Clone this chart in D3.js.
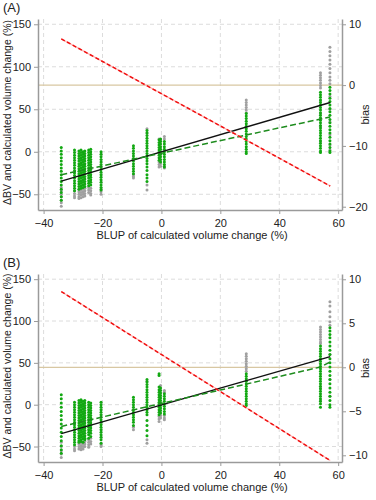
<!DOCTYPE html>
<html>
<head>
<meta charset="utf-8">
<script src="https://cdn.jsdelivr.net/npm/d3@7"></script>
<style>
  body { margin: 0; background: #fff; }
  text { font-family: "Liberation Sans", Arial, sans-serif; fill: #222; }
</style>
</head>
<body>
<div id="chart"></div>
<script>
// column positions (BLUP of calculated volume change, %)
var colX = [-34, -29.5, -28, -27.3, -26.6, -26, -24.7, -24, -20.5, -9.5, -4.9, -0.8, -0.3, 1, 28.8, 54, 57.2];

// panel A: grey = calculated volume change, green = ΔBV
var grayA = [
  [-42, -46, -50, -53, -57, -60, -64],
  [-46, -49, -52, -54],
  [-44, -47, -50, -53, -55],
  [-45, -48, -51, -54],
  [-44, -47, -50, -53],
  [-43, -46, -49, -52],
  [-42, -45, -48],
  [-43, -46, -49, -51],
  [-44, -47, -50],
  [-27, -29, -31],
  [27, 22, -39, -45],
  [15, -12, -15, -18],
  [14, -14, -17],
  [18, 15, -17, -19],
  [61, 58, 55, 52, 49, 46],
  [93, 90, 87, 84, 81, 78, 75, 60, 45, 30, 12],
  [123, 118, 113, 108, 103, 98, 93, 88, 84, 80, 65, 50, 35, 20, 8, 2]
];
var greenA = [
  [5, 1, -3, -7, -11, -15, -19, -23, -27, -31, -35, -39, -44, -48, -53, -57],
  [2, -1, -4, -7, -10, -13, -16, -19, -22, -25, -28, -31, -34, -37, -40, -43, -46],
  [1, -2, -5, -8, -11, -14, -17, -20, -23, -26, -29, -32, -35, -38, -41, -44],
  [2, -1, -4, -7, -10, -13, -16, -19, -22, -25, -28, -31, -34, -37, -40, -43],
  [0, -3, -6, -9, -12, -15, -18, -21, -24, -27, -30, -33, -36, -39, -42],
  [1, -2, -5, -8, -11, -14, -17, -20, -23, -26, -29, -32, -35, -38, -41],
  [2, -1, -4, -7, -10, -13, -16, -19, -22, -25, -28, -31, -34, -37, -40],
  [3, 0, -3, -6, -9, -12, -15, -18, -21, -24, -27, -30, -33, -36, -39],
  [0, -3, -6, -9, -12, -15, -18, -21, -24, -27, -30, -33, -36, -39, -42, -45],
  [7, 4, 1, -2, -5, -8, -11, -14, -17, -20, -23, -26],
  [25, 22, 19, 16, 13, 10, 7, 4, 1, -2, -5, -8, -11, -14, -18, -22, -27, -31, -35],
  [14, 11, 8, 5, 2, -1, -4, -7, -10],
  [15, 12, 9, 6, 3, 0, -3, -6, -9, -12],
  [12, 9, 6, 3, 0, -3, -6, -9, -12, -15, -18],
  [45, 42, 39, 36, 33, 30, 27, 24, 21, 18, 15, 12, 9, 6, 3, 0, -2],
  [70, 67, 64, 61, 58, 55, 52, 49, 46, 43, 40, 37, 34, 31, 28, 25, 22, 19, 16, 13, 10, 7, 4, 1, -1],
  [76, 72, 68, 63, 59, 55, 51, 47, 43, 38, 34, 30, 26, 22, 17, 13, 9, 5, 1, -1]
];

// panel B
var grayB = [
  [-45, -50, -55, -59, -63],
  [-50, -53, -55],
  [-47, -50, -53],
  [-46, -49, -52, -54],
  [-47, -50, -53],
  [-44, -47, -50],
  [-42, -45, -48, -51],
  [-40, -44, -47],
  [-48, -50],
  [-27, -30],
  [28, -42, -46],
  [-14, -17, -20],
  [23, -13, -16],
  [17, 15, -13, -16, -18],
  [61, 58, 55, 52, 49, 46, 43, 40],
  [93, 90, 87, 84, 81, 78, 75, 73, 20, 5],
  [123, 118, 111, 105, 99, 95, 60, 30, 10]
];
var greenB = [
  [12, 7, 2, -3, -8, -13, -18, -23, -28, -33, -38, -43, -49, -54, -58],
  [3, 0, -3, -6, -9, -12, -15, -18, -21, -24, -27, -30, -33, -36, -39, -42, -45, -48],
  [5, 2, -1, -4, -7, -10, -13, -16, -19, -22, -25, -28, -31, -34, -37, -40, -43, -45],
  [6, 3, 0, -3, -6, -9, -12, -15, -18, -21, -24, -27, -30, -33, -36, -39, -42, -44],
  [4, 1, -2, -5, -8, -11, -14, -17, -20, -23, -26, -29, -32, -35, -38, -41, -45],
  [5, 2, -1, -4, -7, -10, -13, -16, -19, -22, -25, -28, -31, -34, -37, -40, -42],
  [3, 0, -3, -6, -9, -12, -15, -18, -21, -24, -27, -30, -33, -36, -40],
  [2, -1, -4, -7, -10, -13, -16, -19, -22, -25, -28, -31, -34, -38],
  [3, 0, -3, -6, -9, -12, -15, -18, -21, -24, -27, -30, -33, -36, -39, -42, -46],
  [9, 6, 3, 0, -3, -6, -9, -12, -15, -18, -21, -25],
  [30, 27, 24, 21, 18, 15, 12, 9, 6, 3, 0, -3, -6, -9, -12, -19, -25, -31, -37],
  [37, 35, 21, 18, 15, 12, 9, 6, 3, 0, -3, -6, -9, -12],
  [20, 17, 14, 11, 8, 5, 2, -1, -4, -7, -10],
  [13, 10, 7, 4, 1, -2, -5, -8, -11],
  [37, 34, 31, 28, 25, 22, 19, 16, 13, 10, 7, 4, 1, -1],
  [70, 67, 64, 61, 58, 55, 52, 49, 46, 43, 40, 37, 34, 31, 28, 25, 22, 19, 16, 13, 10, 7, 4, 1, -3],
  [92, 88, 84, 80, 75, 70, 65, 60, 55, 50, 45, 40, 35, 30, 25, 20, 15, 10, 5, 0, -3]
];

// fitted lines: [x, y]
var fitBlackA = [[-34, -34.5], [57.3, 58]];
var fitGreenA = [[-34, -27], [54, 38.5], [57.3, 41]];
var biasA = [[-34, 7.6], [57.3, -16.6]];
var fitBlackB = [[-34, -34.5], [57.3, 57.5]];
var fitGreenB = [[-34, -26], [54, 45], [57.3, 51]];
var biasB = [[-34, 8.6], [57.3, -10.6]];

var xTicks = [-40, -20, 0, 20, 40, 60];
var yTicks = [-50, 0, 50, 100, 150];
var biasTicksA = [-20, -10, 0, 10];
var biasTicksB = [-10, -5, 0, 5, 10];

var W = 376, H = 500;
var svg = d3.select("#chart").append("svg").attr("width", W).attr("height", H);

function fmt(d) { return d < 0 ? "\u2212" + (-d) : d; }

function panel(top, h, label, gray, green, fBlack, fGreen, bias, biasDomain, biasTicks) {
  var left = 38, right = 342, bottom = top + h;
  var g = svg.append("g");

  var x = d3.scaleLinear().domain([-41.9, 61.3]).range([left, right]);
  var y = d3.scaleLinear().domain([-68.5, 156.2]).range([bottom, top]);
  var yb = d3.scaleLinear().domain(biasDomain).range([bottom, top]);

  // grid
  g.append("g").selectAll("line").data(xTicks).enter().append("line")
    .attr("x1", x).attr("x2", x).attr("y1", top).attr("y2", bottom)
    .attr("stroke", "#dcdcdc").attr("stroke-dasharray", "4,3");
  g.append("g").selectAll("line").data(yTicks).enter().append("line")
    .attr("x1", left).attr("x2", right).attr("y1", y).attr("y2", y)
    .attr("stroke", "#dcdcdc").attr("stroke-dasharray", "4,3");

  // bias = 0 reference
  g.append("line").attr("x1", left).attr("x2", right)
    .attr("y1", yb(0)).attr("y2", yb(0))
    .attr("stroke", "#d8c7a2").attr("stroke-width", 1.2);

  // points
  function dots(sets, color) {
    var pts = [];
    sets.forEach(function(vals, i) {
      vals.forEach(function(v) { pts.push([colX[i], v]); });
    });
    g.append("g").selectAll("circle").data(pts).enter().append("circle")
      .attr("cx", function(d) { return x(d[0]); })
      .attr("cy", function(d) { return y(d[1]); })
      .attr("r", 1.5)
      .attr("fill", color);
  }
  dots(gray, "#a0a0a0");
  dots(green, "#12a812");

  var line = d3.line().x(function(d) { return x(d[0]); }).y(function(d) { return y(d[1]); });
  var lineB = d3.line().x(function(d) { return x(d[0]); }).y(function(d) { return yb(d[1]); });

  g.append("path").attr("d", line(fBlack)).attr("fill", "none")
    .attr("stroke", "#111").attr("stroke-width", 1.4);
  g.append("path").attr("d", line(fGreen)).attr("fill", "none")
    .attr("stroke", "#1e8c1e").attr("stroke-width", 1.5).attr("stroke-dasharray", "6,3");
  g.append("path").attr("d", lineB(bias)).attr("fill", "none")
    .attr("stroke", "#ffb4b4").attr("stroke-width", 1.2);
  g.append("path").attr("d", lineB(bias)).attr("fill", "none")
    .attr("stroke", "#f01010").attr("stroke-width", 1.5).attr("stroke-dasharray", "4,2.5");

  // axes
  var ax = g.append("g").attr("transform", "translate(0," + bottom + ")")
    .call(d3.axisBottom(x).tickValues(xTicks).tickSize(4).tickSizeOuter(0).tickFormat(fmt));
  var ay = g.append("g").attr("transform", "translate(" + left + ",0)")
    .call(d3.axisLeft(y).tickValues(yTicks).tickSize(4).tickSizeOuter(0).tickFormat(fmt));
  var ar = g.append("g").attr("transform", "translate(" + right + ",0)")
    .call(d3.axisRight(yb).tickValues(biasTicks).tickSize(4).tickSizeOuter(0).tickFormat(fmt));
  [ax, ay, ar].forEach(function(a) {
    a.select(".domain").attr("stroke", "#9a9a9a").attr("stroke-width", 1.5);
    a.selectAll(".tick line").attr("stroke", "#9a9a9a");
    a.selectAll(".tick text").attr("font-size", 11).attr("fill", "#222")
      .style("font-family", "'Liberation Sans', Arial, sans-serif");
  });
  ax.selectAll(".tick text").attr("dy", "0.9em");

  // titles
  svg.append("text").attr("x", 3).attr("y", top - 7).attr("font-size", 13).text(label);
  svg.append("text").attr("x", (left + right) / 2 + 2).attr("y", bottom + 29)
    .attr("text-anchor", "middle").attr("font-size", 11)
    .text("BLUP of calculated volume change (%)");
  svg.append("text")
    .attr("transform", "translate(11," + ((top + bottom) / 2 - 2) + ")rotate(-90)")
    .attr("text-anchor", "middle").attr("font-size", 10.5)
    .text("\u0394BV and calculated volume change (%)");
  svg.append("text")
    .attr("transform", "translate(369," + ((top + bottom) / 2) + ")rotate(-90)")
    .attr("text-anchor", "middle").attr("font-size", 11)
    .text("bias");
}

panel(19, 191, "(A)", grayA, greenA, fitBlackA, fitGreenA, biasA, [-20.54, 10.87], biasTicksA);
panel(274, 188, "(B)", grayB, greenB, fitBlackB, fitGreenB, biasB, [-10.76, 10.6], biasTicksB);
</script>
</body>
</html>
